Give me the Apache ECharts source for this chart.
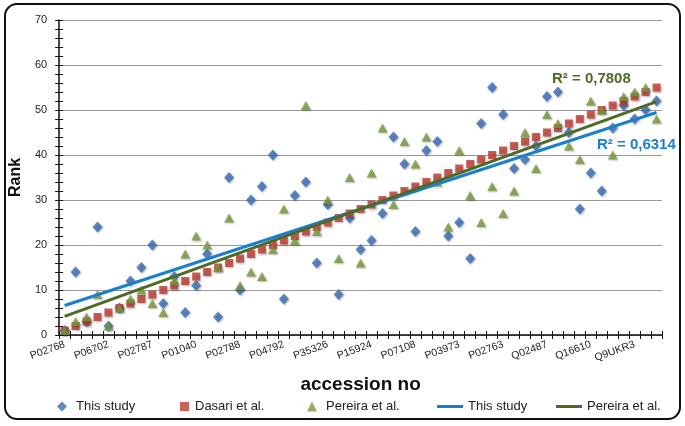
<!DOCTYPE html>
<html>
<head>
<meta charset="utf-8">
<script src="https://cdn.jsdelivr.net/npm/echarts@6/dist/echarts.min.js"></script>
<style>
html,body{margin:0;padding:0;background:#fff;}
#chart{width:685px;height:426px;}
</style>
</head>
<body>
<div id="chart"></div>
<script>
// ---- data ----
const tickLabels = ['P02768','P06702','P02787','P01040','P02788','P04792','P35326','P15924','P07108','P03973','P02763','Q02487','Q16610','Q9UKR3'];
const thisStudy = [1,14,3,24,2,6,12,15,20,7,13, 5,11,18,4,35,10,30,33,40,8,31, 34,16,29,9,26,19,21,27,44,38,23, 41,43,22,25,17,47,55,49,37,39,42, 53,54,45,28,36,32,46,51,48,50,52];
const dasari = [1,2,3,4,5,6,7,8,9,10,11,12,13,14,15,16,17,18,19,20,21,22,23,24,25,26,27,28,29,30,31,32,33,34,35,36,37,38,39,40,41,42,43,44,45,46,47,48,49,50,51,52,53,54,55];
const pereira = [1,3,4,9,2,6,8,10,7,5,12, 18,22,20,15,26,11,14,13,19,28,21, 51,23,30,17,35,16,36,46,29,43,38, 44,34,24,41,31,25,33,27,32,45,37, 49,47,42,39,52,50,40,53,54,55,48];
const r2Labels = ['R² = 0,6314', 'R² = 0,7808'];

// categories: labelled every 4th
const categories = dasari.map((_, i) => (i % 4 === 0 ? tickLabels[i / 4] : ''));

function pairs(arr) { return arr.map((v, i) => [i, v]); }
function trend(arr) {
  const n = arr.length;
  let sx = 0, sy = 0;
  for (let i = 0; i < n; i++) { sx += i + 1; sy += arr[i]; }
  const mx = sx / n, my = sy / n;
  let sxy = 0, sxx = 0;
  for (let i = 0; i < n; i++) { sxy += (i + 1 - mx) * (arr[i] - my); sxx += (i + 1 - mx) * (i + 1 - mx); }
  const b = sxy / sxx, a = my - b * mx;
  return [[0, a + b * 1], [n - 1, a + b * n]];
}

const FONT = "'Liberation Sans Narrow','Liberation Sans',Arial,sans-serif";
const BFONT = "'Liberation Sans',Arial,sans-serif";
const BLUE = '#3a6cb4', RED = '#bf3a30', GREEN = '#789a3c';
const TBLUE = '#1b7fcf', TGREEN = '#4f6a26';
const shadow = {shadowBlur: 2, shadowColor: 'rgba(0,0,0,0.35)', shadowOffsetX: 1, shadowOffsetY: 1};

const chart = echarts.init(document.getElementById('chart'));
const legendCommon = {top: 395, itemGap: 0, selectedMode: false, textStyle: {fontFamily: FONT, fontSize: 13, color: '#222'}};
chart.setOption({
  animation: false,
  backgroundColor: '#fff',
  grid: {left: 59, right: 23, top: 20, bottom: 91, containLabel: false},
  xAxis: [{
    type: 'category', data: categories, position: 'bottom',
    name: 'accession no', nameLocation: 'middle', nameGap: 40,
    nameTextStyle: {fontFamily: BFONT, fontSize: 19, fontWeight: 'bold', color: '#111'},
    axisLine: {lineStyle: {color: '#111', width: 1.5}},
    axisTick: {show: true, interval: 0, length: 4, lineStyle: {color: '#111'}},
    axisLabel: {interval: 3, rotate: 20, fontSize: 10.5, margin: 9, color: '#222', fontFamily: FONT},
    splitLine: {show: false}
  }, {
    type: 'category', data: categories, position: 'bottom',
    axisLine: {show: false},
    axisTick: {show: true, interval: 0, inside: true, length: 4, lineStyle: {color: '#111'}},
    axisLabel: {show: false}, splitLine: {show: false}
  }],
  yAxis: [{
    type: 'value', min: 0, max: 70, interval: 10, position: 'left',
    name: 'Rank', nameLocation: 'middle', nameGap: 33,
    nameTextStyle: {fontFamily: BFONT, fontSize: 16, fontWeight: 'bold', color: '#111'},
    axisLine: {show: true, lineStyle: {color: '#111', width: 1.5}},
    axisTick: {show: true, length: 4, lineStyle: {color: '#111'}},
    minorTick: {show: true, splitNumber: 5, length: 4, lineStyle: {color: '#111'}},
    axisLabel: {fontSize: 11, margin: 12, color: '#222', fontFamily: FONT},
    splitLine: {show: true, lineStyle: {color: '#9a9a9a', width: 1}}
  }, {
    type: 'value', min: 0, max: 70, interval: 10, position: 'left',
    axisLine: {show: false},
    axisTick: {show: true, inside: true, length: 4, lineStyle: {color: '#111'}},
    minorTick: {show: true, splitNumber: 5, length: 4, lineStyle: {color: '#111'}},
    axisLabel: {show: false}, splitLine: {show: false}
  }],
  legend: [
    Object.assign({}, legendCommon, {left: 52, itemWidth: 10, itemHeight: 10, data: [{name: 'This study', icon: 'diamond'}],
      textStyle: Object.assign({}, legendCommon.textStyle, {padding: [0, 0, 0, 4]})}),
    Object.assign({}, legendCommon, {left: 175, itemWidth: 9, itemHeight: 9, data: [{name: 'Dasari et al.', icon: 'rect'}],
      textStyle: Object.assign({}, legendCommon.textStyle, {padding: [0, 0, 0, 1]})}),
    Object.assign({}, legendCommon, {left: 302, itemWidth: 10, itemHeight: 10, data: [{name: 'Pereira et al.', icon: 'triangle'}],
      textStyle: Object.assign({}, legendCommon.textStyle, {padding: [0, 0, 0, 4]})}),
    Object.assign({}, legendCommon, {left: 432, itemWidth: 26, itemHeight: 3, formatter: 'This study', data: [{name: 'This study trend', icon: 'rect'}]}),
    Object.assign({}, legendCommon, {left: 551, itemWidth: 26, itemHeight: 3, formatter: 'Pereira et al.', data: [{name: 'Pereira et al. trend', icon: 'rect'}]})
  ],
  series: [
    {name: 'This study', type: 'scatter', data: pairs(thisStudy), symbol: 'diamond', symbolSize: [10, 11],
     itemStyle: Object.assign({color: BLUE}, shadow), z: 2},
    {name: 'Dasari et al.', type: 'scatter', data: pairs(dasari), symbol: 'rect', symbolSize: 8,
     itemStyle: Object.assign({color: RED}, shadow), z: 3},
    {name: 'Pereira et al.', type: 'scatter', data: pairs(pereira), symbol: 'triangle', symbolSize: [10, 9],
     itemStyle: Object.assign({color: GREEN}, shadow), z: 4},
    {name: 'This study trend', type: 'line', data: trend(thisStudy), symbol: 'none', showSymbol: false,
     lineStyle: {color: TBLUE, width: 3}, itemStyle: {color: TBLUE}, z: 5},
    {name: 'Pereira et al. trend', type: 'line', data: trend(pereira), symbol: 'none', showSymbol: false,
     lineStyle: {color: TGREEN, width: 3}, itemStyle: {color: TGREEN}, z: 6}
  ],
  graphic: [
    {type: 'rect', shape: {x: 5, y: 4, width: 675, height: 415, r: 12}, style: {fill: 'none', stroke: '#111', lineWidth: 2}, z: 100},
    {type: 'text', left: 552, top: 71, style: {text: r2Labels[1], fill: TGREEN, font: "bold 15px 'Liberation Sans',Arial,sans-serif"}, z: 100},
    {type: 'text', left: 597, top: 137, style: {text: r2Labels[0], fill: TBLUE, font: "bold 15px 'Liberation Sans',Arial,sans-serif"}, z: 100}
  ]
});
</script>
</body>
</html>
